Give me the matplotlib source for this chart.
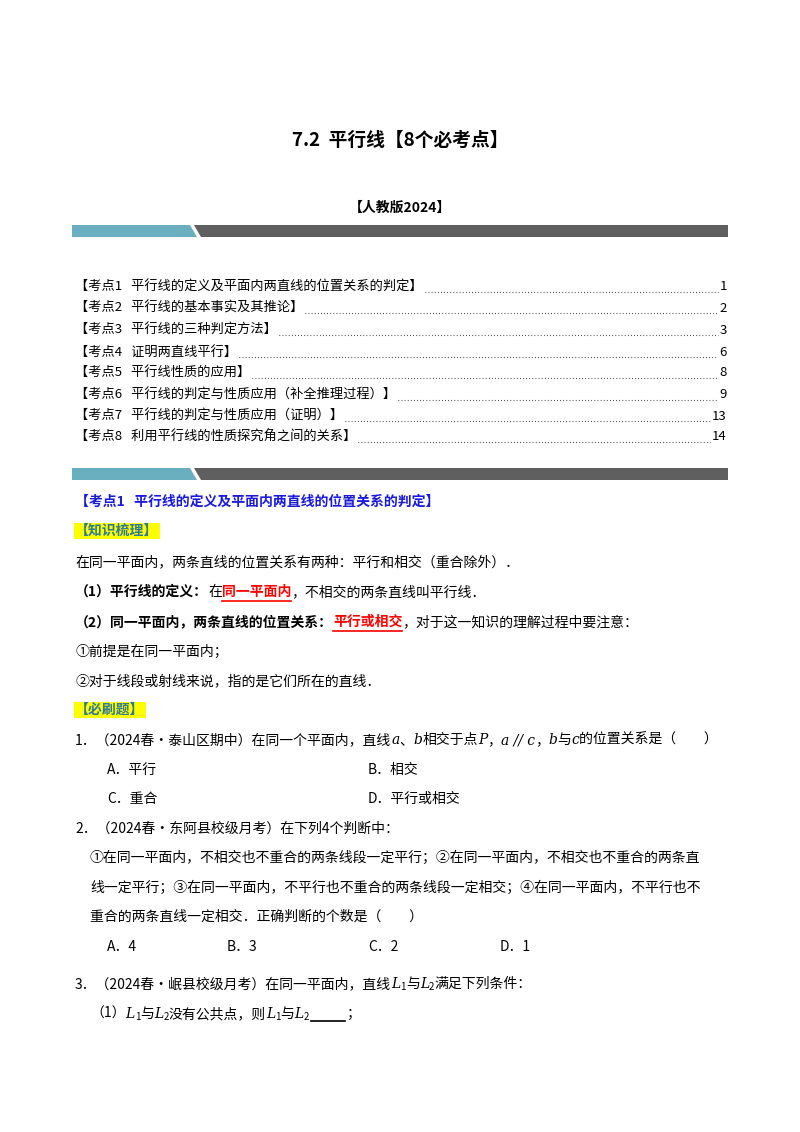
import matplotlib
matplotlib.use("Agg")
import matplotlib.pyplot as plt
from matplotlib.patches import Polygon

plt.rcParams['font.family'] = ['Noto Sans CJK SC', 'DejaVu Sans']

title = "7.2  平行线【8个必考点】"
edition = "【人教版2024】"
toc_titles = ["【考点1   平行线的定义及平面内两直线的位置关系的判定】",
              "【考点2   平行线的基本事实及其推论】",
              "【考点3   平行线的三种判定方法】",
              "【考点4   证明两直线平行】",
              "【考点5   平行线性质的应用】",
              "【考点6   平行线的判定与性质应用（补全推理过程）】",
              "【考点7   平行线的判定与性质应用（证明）】",
              "【考点8   利用平行线的性质探究角之间的关系】"]
toc_pages = ["1", "2", "3", "6", "8", "9", "13", "14"]

W, H = 800, 1132
fig = plt.figure(figsize=(8, 11.32), dpi=100)
ax = fig.add_axes([0, 0, 1, 1])
ax.set_xlim(0, W); ax.set_ylim(H, 0); ax.axis('off')
fig.canvas.draw()
R = fig.canvas.get_renderer()
FS = 10

def runs(x, y, parts, fs=FS):
    for p in parts:
        if isinstance(p, str):
            p = (p, {})
        s, kw = p
        kw = dict(kw)
        ul = kw.pop('underline', False)
        f = kw.pop('fontsize', fs)
        dy = kw.pop('dy', 0)
        t = ax.text(x, y + dy, s, fontsize=f, va='center', ha='left', **kw)
        bb = t.get_window_extent(R)
        if ul:
            ax.plot([x, x + bb.width], [y + 9, y + 9], color=kw.get('color', 'k'), lw=1.2)
        x += bb.width
    return x

def banner(y):
    ax.add_patch(Polygon([[72, y], [190, y], [197, y + 12], [72, y + 12]], color='#6aafc0', lw=0))
    ax.add_patch(Polygon([[194, y], [728, y], [728, y + 12], [201, y + 12]], color='#5f5f5f', lw=0))

ax.text(400, 140, title, fontsize=13.5, fontweight='bold', ha='center', va='center')
ax.text(400, 208, edition, fontsize=10, fontweight='bold', ha='center', va='center')
banner(225)

ys = [287, 308, 330, 352, 373, 395, 416, 437]
for yy, t, p in zip(ys, toc_titles, toc_pages):
    tt = ax.text(75, yy, t, fontsize=9.5, va='center')
    x1 = 75 + tt.get_window_extent(R).width
    pt = ax.text(727, yy, p, fontsize=9.5, va='center', ha='right')
    x2 = 727 - pt.get_window_extent(R).width
    ax.plot([x1 + 2, x2 - 2], [yy + 5, yy + 5], color='k', lw=0.8, ls=(0, (0.6, 2.2)))

banner(468)
blue = dict(color='#1a1adc', fontweight='bold')
ax.text(75, 502, "【考点1   平行线的定义及平面内两直线的位置关系的判定】", fontsize=10, va='center', **blue)

def tag(y, s):
    ax.text(75, y, s, fontsize=10, fontweight='bold', color='#2e7a9a', va='center',
            bbox=dict(facecolor='#ffff00', edgecolor='none', pad=1))

tag(531, "【知识梳理】")
runs(75, 562, ["在同一平面内，两条直线的位置关系有两种：平行和相交（重合除外）．"])
red = {'color': '#ff0000', 'fontweight': 'bold', 'underline': True}
runs(75, 592, [("（1）平行线的定义：", {'fontweight': 'bold'}), "在", ("同一平面内", red), "，不相交的两条直线叫平行线．"])
runs(75, 622, [("（2）同一平面内，两条直线的位置关系：", {'fontweight': 'bold'}), ("平行或相交", red), "，对于这一知识的理解过程中要注意："])
runs(75, 652, ["①前提是在同一平面内；"])
runs(75, 681, ["②对于线段或射线来说，指的是它们所在的直线．"])
tag(710, "【必刷题】")
it = {'style': 'italic', 'family': ['DejaVu Serif']}
sub = {'fontsize': 7, 'dy': 3}
runs(75, 740, ["1．（2024春•泰山区期中）在同一个平面内，直线", ("a", it), "、", ("b", it), "相交于点", ("P", it), "，",
               ("a // c", it), "，", ("b", it), "与", ("c", it), "的位置关系是（　　）"])
for x, s, y in [(107, "A．平行", 770), (368, "B．相交", 770), (107, "C．重合", 799), (368, "D．平行或相交", 799)]:
    runs(x, y, [s])
runs(75, 829, ["2．（2024春•东阿县校级月考）在下列4个判断中："])
runs(90, 858, ["①在同一平面内，不相交也不重合的两条线段一定平行；②在同一平面内，不相交也不重合的两条直"])
runs(90, 888, ["线一定平行；③在同一平面内，不平行也不重合的两条线段一定相交；④在同一平面内，不平行也不"])
runs(90, 917, ["重合的两条直线一定相交．正确判断的个数是（　　）"])
for x, s in [(107, "A．4"), (227, "B．3"), (368, "C．2"), (500, "D．1")]:
    runs(x, 947, [s])
runs(75, 984, ["3．（2024春•岷县校级月考）在同一平面内，直线", ("L", it), ("1", sub), "与", ("L", it), ("2", sub), "满足下列条件："])
x = runs(90, 1014, ["（1）", ("L", it), ("1", sub), "与", ("L", it), ("2", sub), "没有公共点，则", ("L", it), ("1", sub), "与", ("L", it), ("2", sub)])
ax.plot([x + 2, x + 36], [1021, 1021], color='k', lw=1.2)
runs(x + 38, 1014, ["；"])

fig.savefig("out.png", dpi=100)
